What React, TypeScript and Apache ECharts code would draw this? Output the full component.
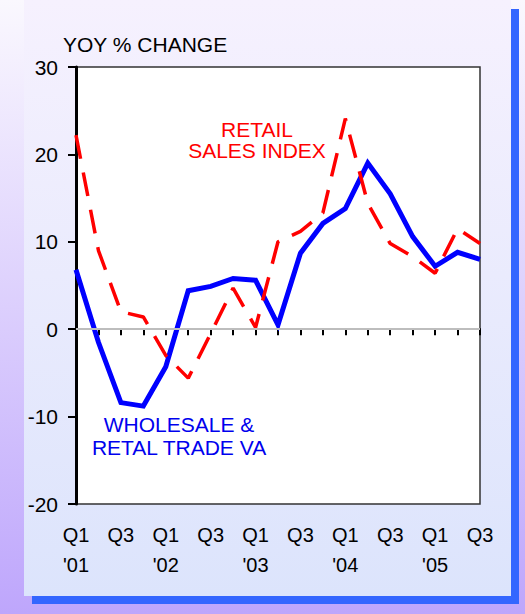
import React, { useEffect, useRef } from "react";
import * as echarts from "echarts";

const categories = [
  "Q1\n'01", "Q2", "Q3", "Q4",
  "Q1\n'02", "Q2", "Q3", "Q4",
  "Q1\n'03", "Q2", "Q3", "Q4",
  "Q1\n'04", "Q2", "Q3", "Q4",
  "Q1\n'05", "Q2", "Q3",
];

const wholesaleRetailVA = [6.8, -1.5, -8.4, -8.8, -4.3, 4.4, 4.9, 5.8, 5.6, 0.5, 8.7, 12.1, 13.8, 19.0, 15.5, 10.6, 7.2, 8.8, 8.0];
const retailSalesIndex = [22.2, 9.0, 2.0, 1.4, -3.0, -5.6, -0.5, 4.7, 0.2, 10.0, 11.2, 13.3, 24.1, 14.4, 9.8, 8.3, 6.4, 11.5, 9.8];

const yMin = -20;
const yMax = 30;
const yStep = 10;

const FONT = "Liberation Sans, Arial, Helvetica, sans-serif";

export default function App() {
  const ref = useRef<HTMLDivElement>(null);

  useEffect(() => {
    document.body.style.margin = "0";
    if (!ref.current) return;
    const chart = echarts.init(ref.current, undefined, { renderer: "svg" });
    chart.setOption({
      animation: false,
      graphic: [
        {
          type: "rect",
          z: -10,
          silent: true,
          shape: { x: 0, y: 0, width: 525, height: 614 },
          style: {
            fill: new echarts.graphic.LinearGradient(0, 0, 0, 1, [
              { offset: 0, color: "#faf8fe" },
              { offset: 1, color: "#bea6fc" },
            ]),
          },
        },
        {
          type: "rect",
          z: -9,
          silent: true,
          shape: { x: 32, y: 9, width: 487, height: 595 },
          style: { fill: "#3366ff" },
        },
        {
          type: "rect",
          z: -8,
          silent: true,
          shape: { x: 24, y: 0, width: 487, height: 596 },
          style: {
            fill: new echarts.graphic.LinearGradient(0, 0, 0, 1, [
              { offset: 0, color: "#f6f1fe" },
              { offset: 1, color: "#dce4fc" },
            ]),
          },
        },
        {
          type: "text",
          z: 100,
          left: 63,
          top: 34,
          style: { text: "YOY % CHANGE", font: `21px ${FONT}`, fill: "#000" },
        },
        {
          type: "text",
          z: 100,
          x: 257,
          y: 139.5,
          style: {
            text: "RETAIL\nSALES INDEX",
            font: `21px ${FONT}`,
            lineHeight: 21,
            fill: "#ff0000",
            align: "center",
            verticalAlign: "middle",
          },
        },
        {
          type: "text",
          z: 100,
          x: 179,
          y: 436,
          style: {
            text: "WHOLESALE &\nRETAL TRADE VA",
            font: `21px ${FONT}`,
            lineHeight: 23.5,
            fill: "#0000ee",
            align: "center",
            verticalAlign: "middle",
          },
        },
      ],
      grid: {
        left: 76,
        top: 67,
        right: 45,
        bottom: 110,
        show: true,
        backgroundColor: "#ffffff",
        borderColor: "#333333",
        borderWidth: 1.5,
      },
      xAxis: {
        type: "category",
        data: categories,
        boundaryGap: false,
        axisLine: { show: true, lineStyle: { color: "#000", width: 2 } },
        axisTick: { show: true, interval: 0, inside: false, length: 6, lineStyle: { color: "#000", width: 2 } },
        axisLabel: {
          interval: 1,
          margin: 16,
          fontFamily: FONT,
          fontSize: 20,
          lineHeight: 30,
          color: "#000",
          verticalAlign: "top",
        },
        splitLine: { show: false },
      },
      yAxis: {
        type: "value",
        min: yMin,
        max: yMax,
        interval: yStep,
        axisLine: { show: true, lineStyle: { color: "#000", width: 3 } },
        axisTick: { show: true, inside: false, length: 8, lineStyle: { color: "#000", width: 2 } },
        axisLabel: { margin: 18, fontFamily: FONT, fontSize: 21, color: "#000" },
        splitLine: { show: false },
      },
      series: [
        {
          name: "WHOLESALE & RETAL TRADE VA",
          type: "line",
          data: wholesaleRetailVA,
          showSymbol: false,
          symbol: "none",
          lineStyle: { color: "#0000ff", width: 5, join: "miter" },
          z: 3,
          markLine: {
            silent: true,
            symbol: "none",
            label: { show: false },
            lineStyle: { color: "#bdbdbd", width: 2, type: "solid" },
            data: [{ yAxis: 0 }],
          },
        },
        {
          name: "RETAIL SALES INDEX",
          type: "line",
          data: retailSalesIndex,
          showSymbol: false,
          symbol: "none",
          lineStyle: { color: "#ff0000", width: 3.5, type: [24, 14] },
          z: 4,
        },
      ],
    });
    return () => chart.dispose();
  }, []);

  return <div ref={ref} style={{ width: 525, height: 614 }} />;
}
